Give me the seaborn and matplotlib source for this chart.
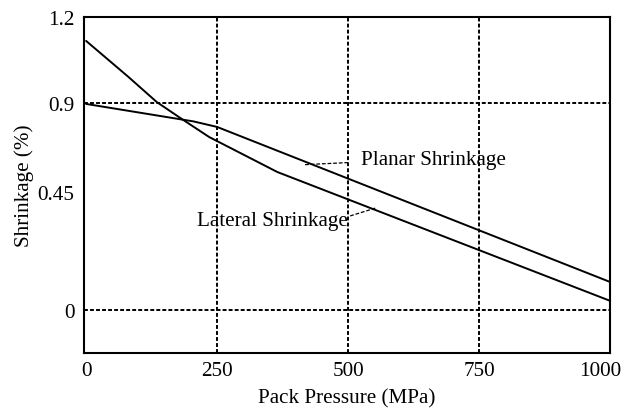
import matplotlib
matplotlib.use("Agg")
import matplotlib.pyplot as plt
import matplotlib.transforms as mtransforms
import seaborn as sns
import pandas as pd

# ---- data (y values are in the chart's own vertical position units;
#      tick labels below are the printed labels of that axis) ----
pressure_lateral = [0, 80, 135, 183, 235, 365, 1000]
lateral_shrinkage = [1.17, 1.015, 0.904, 0.83, 0.752, 0.60, 0.04]

pressure_planar = [0, 205, 250, 1000]
planar_shrinkage = [0.896, 0.820, 0.796, 0.122]

x_ticks = [0, 250, 500, 750, 1000]
x_tick_labels = ["0", "250", "500", "750", "1000"]
y_ticks = [0, 0.513, 0.9, 1.274]
y_tick_labels = ["0", "0.45", "0.9", "1.2"]
x_grid = [250, 500, 750]
y_grid = [0, 0.9]

sns.set_theme(style="white")
plt.rcParams["font.family"] = ["Liberation Serif", "DejaVu Serif"]
plt.rcParams["font.size"] = 15.2
plt.rcParams["text.color"] = "black"
plt.rcParams["axes.labelcolor"] = "black"

fig = plt.figure(figsize=(6.3, 4.1), dpi=100)
ax = fig.add_axes([84 / 630, 1 - 354 / 410, (610 - 84) / 630, (354 - 18) / 410])

df_lat = pd.DataFrame({"p": pressure_lateral, "s": lateral_shrinkage})
df_pla = pd.DataFrame({"p": pressure_planar, "s": planar_shrinkage})

for gx in x_grid:
    ax.axvline(gx, color="black", lw=1.4, ls=(0, (2, 1.1)), zorder=1)
for gy in y_grid:
    ax.axhline(gy, color="black", lw=1.4, ls=(0, (2, 1.1)), zorder=1)

sns.lineplot(data=df_lat, x="p", y="s", ax=ax, color="black", lw=1.4,
             estimator=None, sort=False, zorder=3)
sns.lineplot(data=df_pla, x="p", y="s", ax=ax, color="black", lw=1.4,
             estimator=None, sort=False, zorder=3)

# annotations with dashed leaders
ax.plot([418, 500], [0.632, 0.641], color="black", lw=0.9, ls=(0, (3, 1.5)), zorder=2)
ax.text(525, 0.635, "Planar Shrinkage", ha="left", va="baseline",
        fontsize=15.2, color="black")
ax.plot([504, 552], [0.409, 0.443], color="black", lw=0.9, ls=(0, (3, 1.5)), zorder=2)
ax.text(212, 0.370, "Lateral Shrinkage", ha="left", va="baseline",
        fontsize=15.2, color="black")

ax.set_xlim(-4, 1000)
ax.set_ylim(-0.187, 1.274)
ax.set_xticks(x_ticks)
ax.set_xticklabels(x_tick_labels)
ax.set_yticks(y_ticks)
ax.set_yticklabels(y_tick_labels)
ax.tick_params(axis="both", length=0, colors="black", labelsize=15.2)
ax.tick_params(axis="x", pad=6)
ax.tick_params(axis="y", pad=7)

# nudge the last x tick label left so it stays inside the figure
last = ax.get_xticklabels()[-1]
last.set_transform(last.get_transform() +
                   mtransforms.ScaledTranslation(-10 / 100, 0, fig.dpi_scale_trans))

ax.set_xlabel("Pack Pressure (MPa)", fontsize=15.2, color="black", labelpad=6)
ax.set_ylabel("Shrinkage (%)", fontsize=15.2, color="black")
ax.yaxis.set_label_coords(-0.095, 0.5)

for sp in ax.spines.values():
    sp.set_color("black")
    sp.set_linewidth(1.5)
ax.grid(False)

fig.savefig("out.png", dpi=100)
